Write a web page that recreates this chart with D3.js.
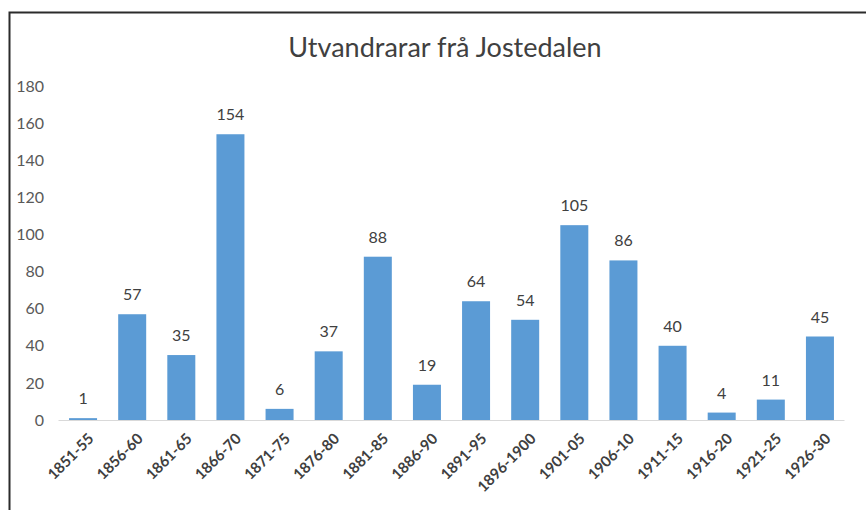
<!DOCTYPE html>
<html lang="nn">
<head>
<meta charset="utf-8" />
<script src="https://cdnjs.cloudflare.com/ajax/libs/d3/7.8.5/d3.min.js"></script>
<style>
  body { margin: 0; background: #fff; }
  text { font-family: Lato, "Open Sans", sans-serif; }
</style>
</head>
<body>
<div id="chart"></div>
<script>
// Data
const periods = ['1851-55', '1856-60', '1861-65', '1866-70', '1871-75', '1876-80', '1881-85', '1886-90',
  '1891-95', '1896-1900', '1901-05', '1906-10', '1911-15', '1916-20', '1921-25', '1926-30'];
const emigrants = [1, 57, 35, 154, 6, 37, 88, 19, 64, 54, 105, 86, 40, 4, 11, 45];
const yTicks = [0, 20, 40, 60, 80, 100, 120, 140, 160, 180];

const width = 866;
const height = 510;

const svg = d3.select('#chart')
  .append('svg')
  .attr('width', width)
  .attr('height', height);

// frame (left + top edge of the chart area)
svg.append('path')
  .attr('d', 'M9.5,510 L9.5,12.5 L866,12.5')
  .attr('fill', 'none')
  .attr('stroke', '#2b2b2b')
  .attr('stroke-width', 2);

// Title
svg.append('text')
  .attr('x', 445)
  .attr('y', 57)
  .attr('text-anchor', 'middle')
  .attr('font-size', 27)
  .attr('fill', '#404040')
  .text('Utvandrarar frå Jostedalen');

// Scales
const x = d3.scaleBand()
  .domain(periods)
  .range([58.5, 844.5])
  .paddingInner(0.43)
  .paddingOuter(0.215);

const y = d3.scaleLinear()
  .domain([0, 180])
  .range([420, 86]);

// Y axis labels
const yAxis = svg.append('g')
  .attr('transform', 'translate(44,0)')
  .call(d3.axisLeft(y).tickValues(yTicks).tickSize(0).tickPadding(0));
yAxis.select('.domain').remove();
yAxis.selectAll('text')
  .attr('font-size', 16)
  .attr('fill', '#595959')
  .style('font-family', 'Lato, sans-serif');

// baseline
svg.append('line')
  .attr('x1', 58.5).attr('x2', 844.5)
  .attr('y1', y(0) + 0.5).attr('y2', y(0) + 0.5)
  .attr('stroke', '#d9d9d9')
  .attr('stroke-width', 1);

// Bars
svg.selectAll('rect.bar')
  .data(periods)
  .enter()
  .append('rect')
  .attr('class', 'bar')
  .attr('x', (d) => x(d))
  .attr('y', (d, i) => y(emigrants[i]))
  .attr('width', x.bandwidth())
  .attr('height', (d, i) => y(0) - y(emigrants[i]))
  .attr('fill', '#5b9bd5');

// Value labels
svg.selectAll('text.val')
  .data(periods)
  .enter()
  .append('text')
  .attr('class', 'val')
  .attr('x', (d) => x(d) + x.bandwidth() / 2)
  .attr('y', (d, i) => y(emigrants[i]) - 14)
  .attr('text-anchor', 'middle')
  .attr('font-size', 16)
  .attr('fill', '#404040')
  .text((d, i) => emigrants[i]);

// X axis labels, rotated
const xAxis = svg.append('g')
  .attr('transform', `translate(0,${y(0)})`)
  .call(d3.axisBottom(x).tickSize(0).tickPadding(0));
xAxis.select('.domain').remove();
xAxis.selectAll('text')
  .attr('font-size', 15)
  .attr('font-weight', 'bold')
  .attr('fill', '#404040')
  .style('font-family', 'Lato, sans-serif')
  .attr('text-anchor', 'end')
  .attr('dy', '0.35em')
  .attr('transform', 'translate(8,16) rotate(-45)');
</script>
</body>
</html>
